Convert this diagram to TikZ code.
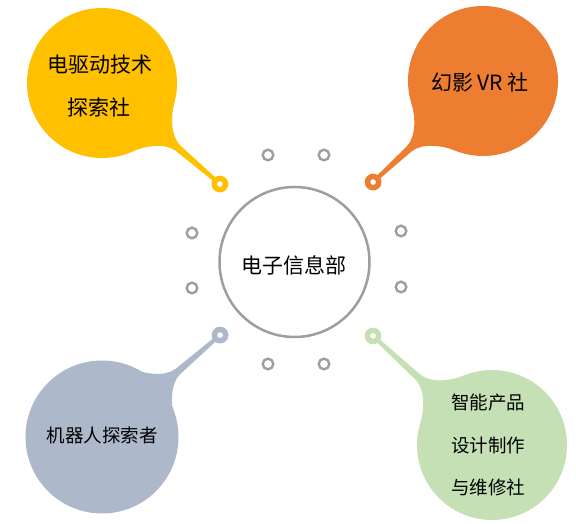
\documentclass[tikz,border=0pt]{standalone}
\usepackage{fontspec}
\setmainfont{Noto Sans CJK SC}
\definecolor{cyellow}{HTML}{FFC000}
\definecolor{corange}{HTML}{ED7D31}
\definecolor{cblue}{HTML}{ADB9CA}
\definecolor{cgreen}{HTML}{C5E0B4}
\definecolor{ringgray}{HTML}{9E9E9E}
\newcommand\mytail[4]{%
  \begin{scope}[shift={#1}, rotate=#2]
    \fill[#4] (25:75) .. controls (73.04,20.82) and (86,4.5) .. (100,3.5)
      -- ({#3-6},2) -- ({#3-6},-2) -- (100,-3.5)
      .. controls (86,-4.5) and (73.04,-20.82) .. (-25:75) -- (0,0) -- cycle;
    \fill[#4] (#3,0) circle (8.4);
    \fill[white] (#3,0) circle (2.8);
  \end{scope}}
\begin{document}
\begin{tikzpicture}[x=1pt,y=1pt]
\tikzset{
  bubble/.style={circle, minimum size=150pt, inner sep=0pt},
  ring/.style={circle, draw=ringgray, line width=2.4pt, minimum size=10.6pt, inner sep=0pt},
  big/.style={font=\fontsize{21}{21}\selectfont, text=black, inner sep=0pt},
  small/.style={font=\fontsize{18.5}{18.5}\selectfont, text=black, inner sep=0pt}
}
\useasboundingbox (0,0) rectangle (576,524);
% bubbles
\node[bubble, fill=cyellow] (yb) at (102,441) {};
\node[bubble, fill=corange] (ob) at (483,443) {};
\node[bubble, fill=cblue, minimum size=153pt] (bb) at (102,87) {};
\node[bubble, fill=cgreen] (gb) at (492,79) {};
\mytail{(yb.center)}{-40.6}{155.3}{cyellow}
\mytail{(ob.center)}{222.6}{149.3}{corange}
\mytail{(bb.center)}{40.8}{156}{cblue}
\mytail{(gb.center)}{137.5}{161.4}{cgreen}
% centre
\node[circle, draw=ringgray, line width=2.5pt, minimum size=150pt, inner sep=0pt] (c) at (294.5,262) {};
\node[big] (ct) at (294,259) {电子信息部};
% rings
\node[ring] (r1) at (268,369) {};
\node[ring] (r2) at (324,369) {};
\node[ring] (r3) at (192,291) {};
\node[ring] (r4) at (192,236) {};
\node[ring] (r5) at (401,293) {};
\node[ring] (r6) at (401,237) {};
\node[ring] (r7) at (268,160) {};
\node[ring] (r8) at (324,160) {};
% labels
\node[big] (y1) at (100,459) {电驱动技术};
\node[big] (y2) at (99,417) {探索社};
\node[big] (o1) at (480,442) {幻影 VR 社};
\node[small] (b1) at (102,89) {机器人探索者};
\node[small] (g1) at (488,121) {智能产品};
\node[small] (g2) at (488,78) {设计制作};
\node[small] (g3) at (488,37) {与维修社};
\end{tikzpicture}
\end{document}
